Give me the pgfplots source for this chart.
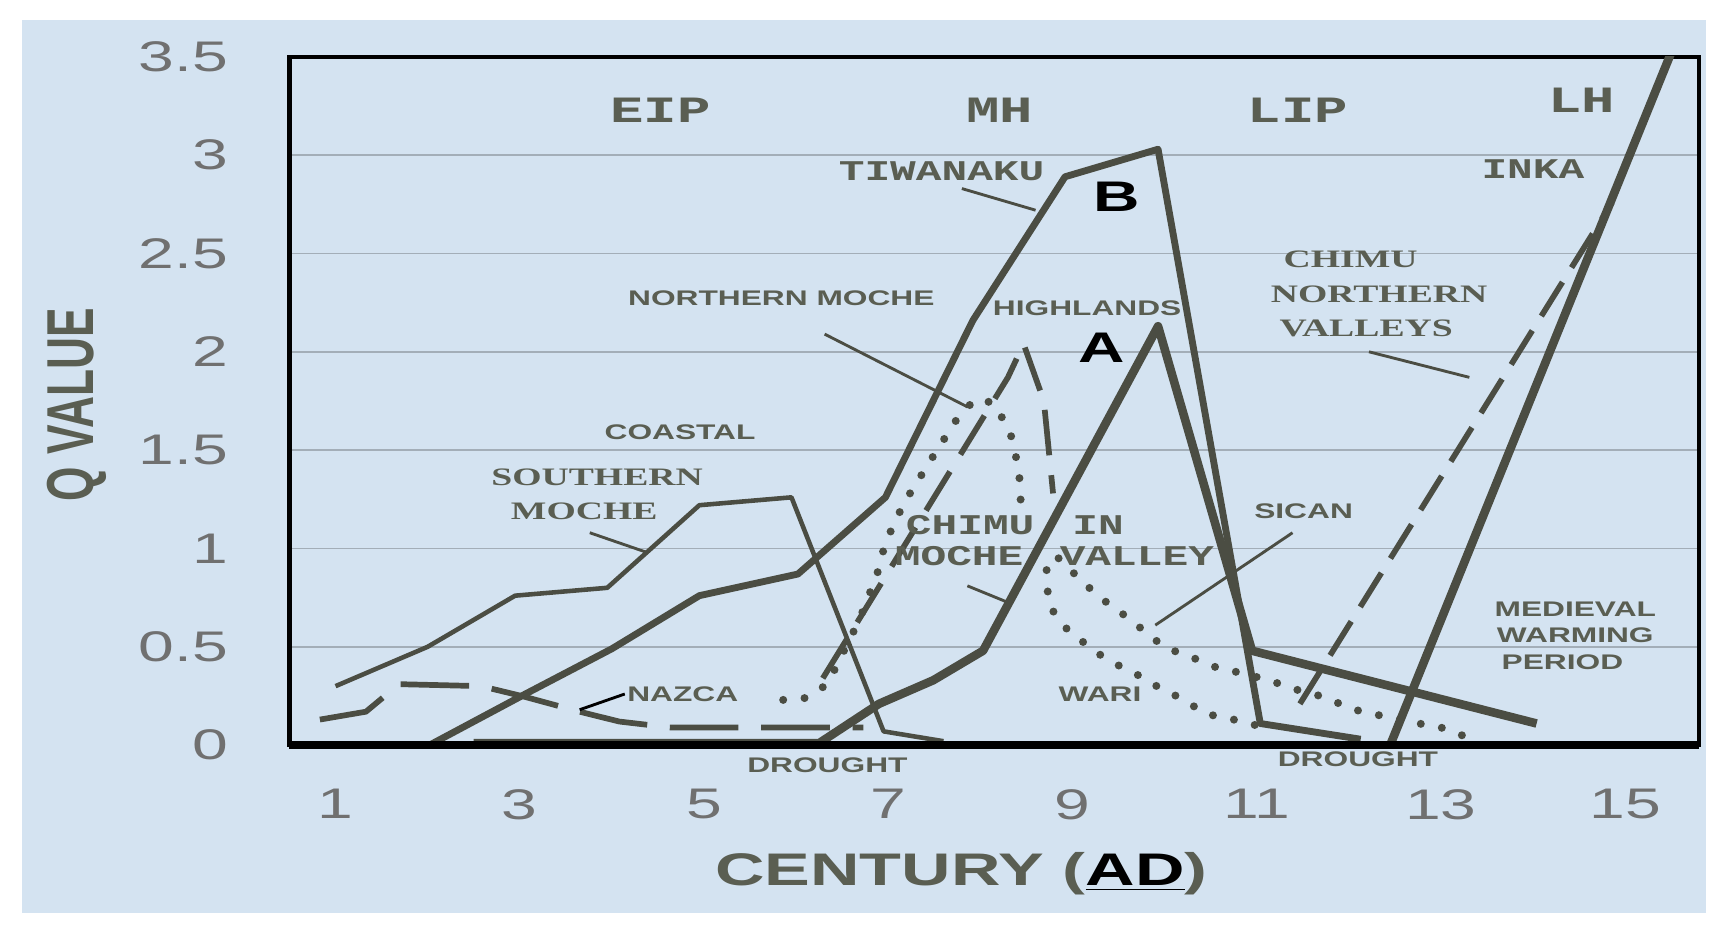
\documentclass[border=0pt]{standalone}
\usepackage{pgfplots}
\pgfplotsset{compat=1.18}
\usepackage{graphicx}
\usepackage{fontspec}
\setmainfont{Liberation Sans}
\newfontfamily\mono{Liberation Mono}
\newfontfamily\serif{Liberation Serif}

\definecolor{bg}{HTML}{D4E3F1}
\definecolor{ink}{HTML}{4B4D43}
\definecolor{txt}{HTML}{5A5E52}
\definecolor{tickc}{HTML}{707070}
\definecolor{gridc}{HTML}{A3AEB8}

% the scan is stretched sideways, so every text is too
\newcommand{\wide}[1]{\scalebox{1.5}[1]{#1}}

\begin{document}
\begin{tikzpicture}[
  lab/.style={font=\fontsize{7.4}{8}\selectfont\bfseries, text=txt, inner sep=0pt},
  cour/.style={font=\fontsize{10}{11}\selectfont\mono\bfseries, text=txt, inner sep=0pt},
  ser/.style={font=\fontsize{8.8}{10}\selectfont\serif\bfseries, text=txt, inner sep=0pt},
  lead/.style={ink, line width=1pt},
  dots/.style={line width=2.8pt, line cap=round, dash pattern=on 0pt off 7.5pt},
]
\useasboundingbox (0,0) rectangle (600pt,325.05pt);
\fill[white] (0,0) rectangle (600pt,325.05pt);
\fill[bg] (7.65pt,5.1pt) rectangle (597.7pt,318.1pt);

\begin{axis}[
  at={(101.4pt,64.06pt)}, anchor=south west,
  scale only axis, width=493.6pt, height=241.1pt,
  xmin=0.5, xmax=15.8, ymin=0, ymax=3.5,
  xtick={1,3,...,15}, ytick={0,0.5,...,3.5},
  major tick length=0pt,
  axis line style={black, line width=1.5pt},
  ymajorgrids, grid style={gridc, line width=0.5pt},
  tick label style={font=\fontsize{15}{16}\selectfont, text=tickc},
  xticklabel={\wide{\pgfmathprintnumber[assume math mode=true]{\tick}}},
  yticklabel={\wide{\pgfmathprintnumber[assume math mode=true]{\tick}}},
  xticklabel style={yshift=-12pt},
  yticklabel style={xshift=-18pt},
  clip mode=individual,
  every axis plot/.append style={ink, line join=round},
]
% southern moche
\addplot[line width=1.6pt] coordinates {(1,0.3) (2,0.5) (2.95,0.76) (3.95,0.8) (4.95,1.22) (5.95,1.26) (6.95,0.07) (7.6,0.02)};
% tiwanaku (B)
\addplot[line width=2.4pt] coordinates {(2.02,0) (3.02,0.25) (4.0,0.49) (4.95,0.76) (6.02,0.87) (6.97,1.26) (7.92,2.16) (8.92,2.89) (9.93,3.03) (11.04,0.11) (12.13,0.03)};
% highlands (A) and the medieval warming period
\addplot[line width=3pt] coordinates {(2.5,0.01) (6.25,0.01) (6.9,0.21) (7.49,0.33) (8.03,0.48) (9.93,2.13) (10.95,0.48) (14.04,0.11)};
% inka
\addplot[line width=3pt] coordinates {(12.45,0) (15.5,3.52)};
% nazca
\addplot[line width=2pt, dash pattern=on 24pt off 8pt] coordinates {(0.83,0.13) (1.33,0.17) (1.69,0.31) (2.58,0.3) (3.02,0.25) (3.65,0.17) (4.08,0.12) (4.63,0.09) (6.73,0.09)};
% northern moche
\addplot[line width=2pt, dash pattern=on 16pt off 7pt] coordinates {(6.29,0.34) (8.3,1.87) (8.47,2.04) (8.69,1.75) (8.79,1.28)};
% chimu in moche valley
\addplot[dots] coordinates {(5.86,0.23) (6.11,0.24) (6.34,0.31) (6.69,0.64) (6.88,0.87) (6.97,1.03) (7.17,1.23) (7.49,1.47) (7.79,1.69) (7.96,1.76) (8.14,1.74) (8.32,1.6) (8.42,1.4) (8.44,1.23)};
% wari
\addplot[dots] coordinates {(8.72,0.89) (8.73,0.79) (8.75,0.71) (8.85,0.64) (8.96,0.58) (9.1,0.53) (9.3,0.46) (9.48,0.41) (9.66,0.37) (9.81,0.33) (9.95,0.29) (10.15,0.245) (10.31,0.2) (10.44,0.16) (10.75,0.13) (11.0,0.1)};
% sican
\addplot[dots] coordinates {(8.85,0.95) (9.09,0.84) (9.3,0.75) (9.48,0.69) (9.68,0.62) (9.85,0.55) (10.04,0.49) (10.28,0.45) (10.53,0.4) (10.8,0.37) (11.14,0.33) (11.37,0.29) (11.77,0.24) (11.99,0.19) (12.23,0.16) (12.48,0.14) (12.76,0.11) (13.0,0.09) (13.23,0.05)};
% chimu northern valleys
\addplot[line width=2pt, dash pattern=on 14pt off 6pt] coordinates {(11.47,0.21) (14.86,2.76)};

\draw[black, line width=2.6pt] (rel axis cs:0,0) -- (rel axis cs:1,0);

% periods
\node[cour, font=\fontsize{13}{14}\selectfont\mono\bfseries] at (axis cs:4.53,3.23) {\wide{EIP}};
\node[cour, font=\fontsize{13}{14}\selectfont\mono\bfseries] at (axis cs:8.21,3.23) {\wide{MH}};
\node[cour, font=\fontsize{13}{14}\selectfont\mono\bfseries] at (axis cs:11.45,3.23) {\wide{LIP}};
\node[cour, font=\fontsize{13}{14}\selectfont\mono\bfseries] at (axis cs:14.53,3.28) {\wide{LH}};

% series labels
\node[cour] at (axis cs:7.58,2.92) {\wide{TIWANAKU}};
\draw[lead] (axis cs:7.80,2.83) -- (axis cs:8.60,2.72);
\node[font=\fontsize{15}{16}\selectfont\bfseries, inner sep=0pt] at (axis cs:9.48,2.79) {\wide{B}};
\node[lab] at (axis cs:5.84,2.27) {\wide{NORTHERN MOCHE}};
\draw[lead] (axis cs:6.31,2.09) -- (axis cs:7.86,1.72);
\node[lab] at (axis cs:9.16,2.22) {\wide{HIGHLANDS}};
\node[font=\fontsize{15}{16}\selectfont\bfseries, inner sep=0pt] at (axis cs:9.32,2.02) {\wide{A}};
\node[lab] at (axis cs:4.74,1.59) {\wide{COASTAL}};
\node[ser] at (axis cs:3.84,1.36) {\wide{SOUTHERN}};
\node[ser] at (axis cs:3.70,1.19) {\wide{MOCHE}};
\draw[lead] (axis cs:3.76,1.08) -- (axis cs:4.38,0.98);
\node[lab] at (axis cs:4.77,0.26) {\wide{NAZCA}};
\draw[black, line width=1pt] (axis cs:4.14,0.26) -- (axis cs:3.65,0.18);
\node[cour] at (axis cs:7.89,1.12) {\wide{CHIMU}};
\node[cour] at (axis cs:9.28,1.12) {\wide{IN}};
\node[cour] at (axis cs:7.77,0.96) {\wide{MOCHE}};
\node[cour] at (axis cs:9.70,0.96) {\wide{VALLEY}};
\draw[lead] (axis cs:7.86,0.81) -- (axis cs:8.33,0.72);
\node[lab] at (axis cs:11.51,1.19) {\wide{SICAN}};
\draw[lead] (axis cs:11.39,1.08) -- (axis cs:9.9,0.61);
\node[lab] at (axis cs:9.30,0.26) {\wide{WARI}};
\node[ser] at (axis cs:12.02,2.47) {\wide{CHIMU}};
\node[ser] at (axis cs:12.33,2.29) {\wide{NORTHERN}};
\node[ser] at (axis cs:12.19,2.12) {\wide{VALLEYS}};
\draw[lead] (axis cs:12.22,2.0) -- (axis cs:13.31,1.87);
\node[cour] at (axis cs:14.0,2.93) {\wide{INKA}};
\node[lab] at (axis cs:14.46,0.69) {\wide{MEDIEVAL}};
\node[lab] at (axis cs:14.46,0.56) {\wide{WARMING}};
\node[lab] at (axis cs:14.32,0.42) {\wide{PERIOD}};
\node[lab] at (axis cs:6.34,-0.10) {\wide{DROUGHT}};
\node[lab] at (axis cs:12.1,-0.07) {\wide{DROUGHT}};
\end{axis}

\node[rotate=90, font=\fontsize{15.5}{16}\selectfont\bfseries, text=txt, inner sep=0pt]
  at (26.8pt,183.4pt) {\scalebox{1}[1.5]{Q VALUE}};
\node[font=\fontsize{16}{17}\selectfont\bfseries, text=txt, inner sep=0pt]
  at (336.7pt,18.9pt) {\wide{CENTURY (\textcolor{black}{\underline{AD}})}};
\end{tikzpicture}
\end{document}
